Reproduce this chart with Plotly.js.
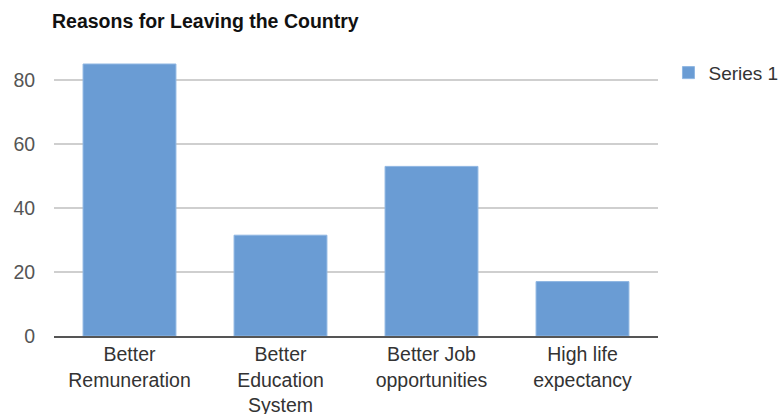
<!DOCTYPE html>
<html>
<head>
<meta charset="utf-8">
<script src="https://cdn.plot.ly/plotly-3.0.1.min.js"></script>
<style>html,body{margin:0;padding:0;background:#fff;}#chart{width:780px;height:414px;}</style>
</head>
<body>
<div id="chart"></div>
<script>
const categories = ["Better<br>Remuneration", "Better<br>Education<br>System", "Better Job<br>opportunities", "High life<br>expectancy"];
const seriesName = "Series 1";
const values = [85, 31.5, 53, 17];
const yTicks = [0, 20, 40, 60, 80];

const data = [{
  type: "bar",
  x: categories,
  y: values,
  name: seriesName,
  marker: {color: "#6a9cd4", line: {color: "#8fb6e2", width: 1}},
  hoverinfo: "x+y"
}];

const layout = {
  width: 780,
  height: 414,
  margin: {l: 54, r: 122, t: 48, b: 78, autoexpand: false},
  paper_bgcolor: "#fff",
  plot_bgcolor: "#fff",
  font: {family: "Liberation Sans, Arial, sans-serif", size: 19.5, color: "#444"},
  title: {
    text: "<b>Reasons for Leaving the Country</b>",
    font: {family: "Liberation Sans, Arial, sans-serif", size: 19.5, color: "#111"},
    xref: "container", x: 52/780, xanchor: "left",
    yref: "container", y: 1 - 21/414, yanchor: "middle"
  },
  bargap: 0.385,
  xaxis: {
    type: "category",
    showline: true, linecolor: "#555", linewidth: 2,
    ticks: "", showgrid: false,
    tickfont: {size: 19.5, color: "#333"},
    fixedrange: true
  },
  yaxis: {
    range: [0, 90],
    tickvals: yTicks,
    ticktext: yTicks.map(String),
    showgrid: true, gridcolor: "#cfcfcf", gridwidth: 1.5,
    zeroline: false, showline: false,
    ticks: "outside", ticklen: 14, tickcolor: "rgba(0,0,0,0)",
    tickfont: {size: 19.5, color: "#555"},
    fixedrange: true
  },
  showlegend: true,
  legend: {
    xref: "container", x: 0.857, xanchor: "left",
    y: 0.98, yanchor: "top",
    font: {size: 19, color: "#333"},
    bgcolor: "rgba(0,0,0,0)"
  }
};

Plotly.newPlot("chart", data, layout, {displayModeBar: false, staticPlot: true});
</script>
</body>
</html>
